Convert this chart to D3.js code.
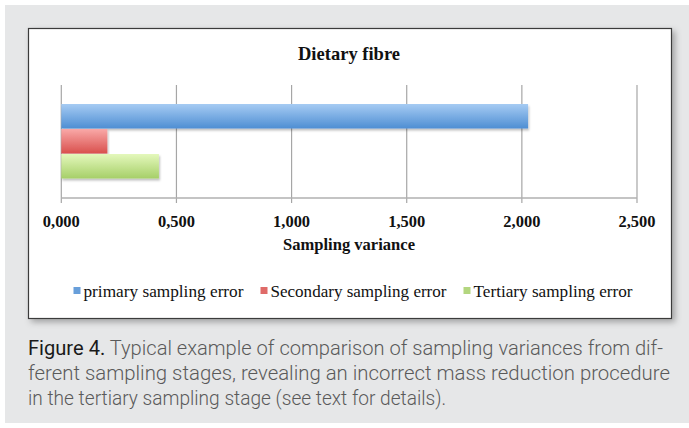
<!DOCTYPE html>
<html>
<head>
<meta charset="utf-8">
<script src="https://cdn.jsdelivr.net/npm/d3@7"></script>
<style>
  body { margin: 0; background: #fff; }
  svg { display: block; }
</style>
</head>
<body>
<div id="chart"></div>
<script>
var width = 689,
    height = 428;

// data
const categories = ['primary sampling error', 'Secondary sampling error', 'Tertiary sampling error'];
const variances = [2.027, 0.2, 0.424];
const xTicks = [0, 0.5, 1, 1.5, 2, 2.5];
const chartTitle = 'Dietary fibre';
const xTitle = 'Sampling variance';
const captionHead = 'Figure 4.';
const captionLines = [
    ' Typical example of comparison of sampling variances from dif-',
    'ferent sampling stages, revealing an incorrect mass reduction procedure',
    'in the tertiary sampling stage (see text for details).'
];

const barColors = {
    'primary sampling error': ['#a6cbf3', '#4e8ed3'],
    'Secondary sampling error': ['#f9a9a8', '#d9504d'],
    'Tertiary sampling error': ['#e4f8bc', '#a6cf68'],
};

const box = { left: 28, top: 28, right: 671, bottom: 318 };
const plot = { left: 61.3, right: 637, top: 85, bottom: 198 };

const locale = d3.formatLocale({ decimal: ',', thousands: '.', grouping: [3], currency: ['', ''] });
const fmt = locale.format('.3f');

var svg = d3.select('#chart').append('svg')
    .attr('width', width)
    .attr('height', height);

const defs = svg.append('defs');

// gradients for the bars
categories.forEach((c, i) => {
    const g = defs.append('linearGradient')
        .attr('id', 'grad' + i)
        .attr('x1', 0).attr('y1', 0).attr('x2', 0).attr('y2', 1);
    g.append('stop').attr('offset', '0%').attr('stop-color', barColors[c][0]);
    g.append('stop').attr('offset', '100%').attr('stop-color', barColors[c][1]);
});

const boxShadow = defs.append('filter').attr('id', 'boxShadow')
    .attr('x', '-5%').attr('y', '-5%').attr('width', '115%').attr('height', '115%');
boxShadow.append('feDropShadow')
    .attr('dx', 3).attr('dy', 3).attr('stdDeviation', 3)
    .attr('flood-color', '#000').attr('flood-opacity', 0.3);

const barShadow = defs.append('filter').attr('id', 'barShadow')
    .attr('x', '-5%').attr('y', '-20%').attr('width', '110%').attr('height', '150%');
barShadow.append('feDropShadow')
    .attr('dx', 1).attr('dy', 2).attr('stdDeviation', 1.2)
    .attr('flood-color', '#000').attr('flood-opacity', 0.25);

// grey page background
svg.append('rect')
    .attr('x', 5).attr('y', 5)
    .attr('width', width - 5).attr('height', height - 10)
    .attr('fill', '#e6e7e8');

// chart box
svg.append('rect')
    .attr('x', box.left + 0.5).attr('y', box.top + 0.5)
    .attr('width', box.right - box.left).attr('height', box.bottom - box.top)
    .attr('fill', '#fff')
    .attr('stroke', '#3a3a3a')
    .attr('stroke-width', 1.2)
    .attr('filter', 'url(#boxShadow)');

var xScale = d3.scaleLinear()
    .domain([0, 2.5])
    .range([plot.left, plot.right]);

var yScale = d3.scaleBand()
    .domain(categories)
    .range([plot.top, plot.bottom])
    .paddingInner(0)
    .paddingOuter(0.76);

// gridlines
svg.append('g')
    .selectAll('line')
    .data(xTicks)
    .enter()
    .append('line')
    .attr('x1', d => xScale(d)).attr('x2', d => xScale(d))
    .attr('y1', plot.top).attr('y2', plot.bottom + 5)
    .attr('stroke', '#a6a6a6')
    .attr('stroke-width', 1.2);

// axis line
svg.append('line')
    .attr('x1', xScale(0)).attr('x2', xScale(2.5))
    .attr('y1', plot.bottom).attr('y2', plot.bottom)
    .attr('stroke', '#b0b0b0')
    .attr('stroke-width', 1.4);

// bars
svg.append('g')
    .selectAll('rect')
    .data(categories)
    .enter()
    .append('rect')
    .attr('x', xScale(0))
    .attr('y', d => yScale(d))
    .attr('width', (d, i) => xScale(variances[i]) - xScale(0))
    .attr('height', yScale.bandwidth() - 0.5)
    .attr('fill', (d, i) => 'url(#grad' + i + ')')
    .attr('filter', 'url(#barShadow)');

const serif = "'Liberation Serif', 'DejaVu Serif', serif";

// tick labels
svg.append('g')
    .selectAll('text')
    .data(xTicks)
    .enter()
    .append('text')
    .attr('x', d => xScale(d))
    .attr('y', 227)
    .attr('text-anchor', 'middle')
    .style('font-family', serif)
    .style('font-weight', 'bold')
    .style('font-size', '17px')
    .attr('fill', '#111')
    .attr('textLength', 37)
    .attr('lengthAdjust', 'spacingAndGlyphs')
    .text(d => fmt(d));

// titles
svg.append('text')
    .attr('x', 349)
    .attr('y', 60)
    .attr('text-anchor', 'middle')
    .style('font-family', serif)
    .style('font-weight', 'bold')
    .style('font-size', '19px')
    .attr('fill', '#111')
    .attr('textLength', 102)
    .attr('lengthAdjust', 'spacingAndGlyphs')
    .text(chartTitle);

svg.append('text')
    .attr('x', 349)
    .attr('y', 250)
    .attr('text-anchor', 'middle')
    .style('font-family', serif)
    .style('font-weight', 'bold')
    .style('font-size', '17px')
    .attr('fill', '#111')
    .attr('textLength', 132)
    .attr('lengthAdjust', 'spacingAndGlyphs')
    .text(xTitle);

// legend
const legendWidths = [160, 176, 159];
const legend = svg.append('g').attr('class', 'legend');
const items = legend.selectAll('.key')
    .data(categories)
    .enter()
    .append('g')
    .attr('class', 'key');

items.append('rect')
    .attr('y', -10)
    .attr('width', 7).attr('height', 7)
    .attr('fill', d => barColors[d][1])
    .attr('opacity', 0.85);

items.append('text')
    .attr('x', 10)
    .style('font-family', serif)
    .style('font-size', '17px')
    .attr('fill', '#111')
    .attr('textLength', (d, i) => legendWidths[i])
    .attr('lengthAdjust', 'spacingAndGlyphs')
    .text(d => d);

const gap = 17;
const total = d3.sum(legendWidths) + 10 * legendWidths.length + gap * (legendWidths.length - 1);
let cursor = 353 - total / 2;
items.attr('transform', (d, i) => {
    const t = `translate(${cursor},297)`;
    cursor += legendWidths[i] + 10 + gap;
    return t;
});

// caption
const sans = "'Liberation Sans Narrow', 'Roboto', 'Liberation Sans', sans-serif";
const capEnds = [663, 670, 446];
captionLines.forEach((line, i) => {
    const t = svg.append('text')
        .attr('x', 28)
        .attr('y', 355 + i * 25)
        .style('font-family', sans)
        .style('font-size', '20px')
        .style('font-weight', 300)
        .attr('fill', '#5a5a5a')
        .attr('textLength', capEnds[i] - 28)
        .attr('lengthAdjust', 'spacingAndGlyphs');
    if (i === 0) {
        t.append('tspan').style('font-weight', 400).attr('fill', '#1a1a1a').text(captionHead);
    }
    t.append('tspan').text(line);
});
</script>
</body>
</html>
